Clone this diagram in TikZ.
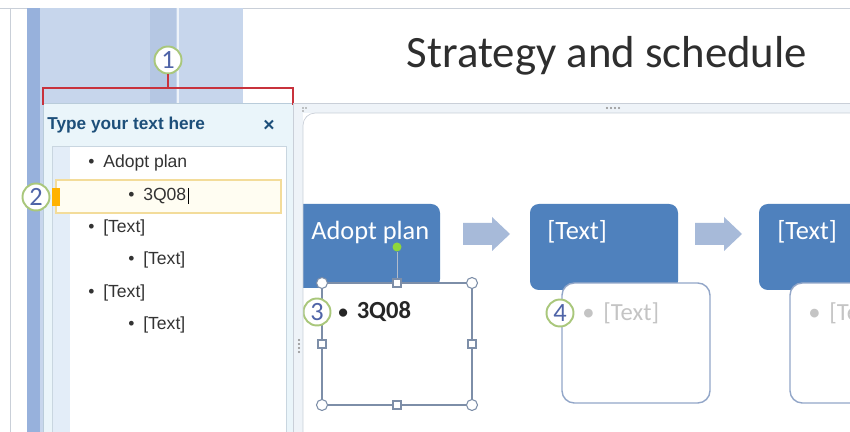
\documentclass[tikz,border=0pt]{standalone}
\usepackage{fontspec}
\setmainfont{Carlito}
\newfontfamily\panefont{Liberation Sans}
\usetikzlibrary{arrows.meta,positioning}
\definecolor{framegray}{HTML}{C9CFD8}
\definecolor{framefill}{HTML}{EEF3F8}
\definecolor{thumbblue}{HTML}{C7D6EC}
\definecolor{thumbdark}{HTML}{97B1DC}
\definecolor{thumbstripe}{HTML}{B5C7E3}
\definecolor{panebg}{HTML}{EAF5FA}
\definecolor{paneborder}{HTML}{B9CCDA}
\definecolor{listborder}{HTML}{C9D6E0}
\definecolor{liststrip}{HTML}{E3EDF8}
\definecolor{titleblue}{HTML}{1D4F7A}
\definecolor{panetext}{HTML}{333333}
\definecolor{rowyellow}{HTML}{F3DC9A}
\definecolor{rowfill}{HTML}{FFFDF2}
\definecolor{bracketred}{HTML}{C8323C}
\definecolor{numgreen}{HTML}{A9C77B}
\definecolor{numblue}{HTML}{4F64A8}
\definecolor{slideblue}{HTML}{4F81BD}
\definecolor{arrowblue}{HTML}{A7BAD9}
\definecolor{boxline}{HTML}{92A6C8}
\definecolor{selline}{HTML}{7D8EA8}
\definecolor{rotgreen}{HTML}{8FD63A}
\definecolor{ghosttext}{HTML}{C4C4C4}

\begin{document}
\begin{tikzpicture}[x=0.02cm,y=-0.02cm,
    numcirc/.style={circle,draw=numgreen,line width=1.1pt,fill=white,minimum size=0.54cm,
      inner sep=0pt,text=numblue,font=\fontsize{15}{15}\selectfont},
    paneitem/.style={anchor=west,inner sep=0pt,text=panetext,font=\panefont\fontsize{10}{10}\selectfont},
    steptext/.style={anchor=west,inner sep=0pt,text=white,font=\fontsize{15}{15}\selectfont},
    handle/.style={circle,draw=selline,fill=white,line width=0.6pt,minimum size=0.22cm,inner sep=0pt},
    sqhandle/.style={rectangle,draw=selline,fill=white,line width=0.6pt,minimum size=0.16cm,inner sep=0pt}]
    \useasboundingbox (0,0) rectangle (850,432);
    \clip (0,0) rectangle (850,432);
    \fill[white] (0,0) rectangle (850,432);
    \draw[framegray] (0,8) -- (850,8);
    \draw[framegray] (10,8) -- (10,432);
    % slide thumbnails behind the pane
    \fill[thumbblue] (27,8) rectangle (243,432);
    \fill[thumbdark] (27,8) rectangle (40,432);
    \fill[thumbstripe] (150,8) rectangle (176,432);
    \draw[white!70!thumbblue,line width=1.2pt] (178,8) -- (178,432);
    % text pane
    \draw[paneborder,fill=panebg] (43,103) rectangle (293,432);
    \node[anchor=west,inner sep=0pt,text=titleblue,font=\panefont\bfseries\fontsize{9.8}{9.8}\selectfont] (panetitle) at (47,125) {Type your text here};
    \node[text=titleblue,font=\panefont\bfseries\fontsize{11}{11}\selectfont] (paneclose) at (269,126) {×};
    \draw[listborder,fill=white] (52,146) rectangle (286,432);
    \fill[liststrip] (53,147) rectangle (70,432);
    \draw[rowyellow,fill=rowfill,line width=0.8pt] (56,180) rectangle (281,213);
    \fill[orange!60!yellow] (52,188) rectangle (60,206);
    \node[paneitem] (p1) at (88,163) {•\hspace{5pt}Adopt plan};
    \node[paneitem] (p2) at (128,196) {•\hspace{5pt}3Q08};
    \draw[black,line width=0.6pt] ([xshift=1pt]p2.east) ++(0,-8) -- ++(0,16);
    \node[paneitem] (p3) at (88,228) {•\hspace{5pt}[Text]};
    \node[paneitem] (p4) at (128,260) {•\hspace{5pt}[Text]};
    \node[paneitem] (p5) at (88,293) {•\hspace{5pt}[Text]};
    \node[paneitem] (p6) at (128,325) {•\hspace{5pt}[Text]};
    % callouts 1 and 2
    \node[numcirc] (n1) at (168,60) {1};
    \coordinate (brmid) at (168,88);
    \coordinate (brL) at (43,105);
    \coordinate (brR) at (293,105);
    \draw[bracketred,line width=1.2pt] (n1.south) -- (brmid);
    \draw[bracketred,line width=1.2pt] (brL) |- (brmid) -| (brR);
    \node[numcirc] (n2) at (36,197) {2};
    % slide
    \node[font=\fontsize{25.5}{25.5}\selectfont,text=black!82] (title) at (607,56) {Strategy and schedule};
    \fill[framefill] (293,103) rectangle (850,113);
    \draw[framegray] (293,103) -- (850,103);
    \fill[slideblue,rounded corners=5pt] (294,204) rectangle (440,288);
    \fill[slideblue,rounded corners=5pt] (530,204) rectangle (678,290);
    \fill[slideblue,rounded corners=5pt] (759,204) rectangle (910,290);
    \node[steptext] (s1) at (311,232) {Adopt plan};
    \node[steptext] (s2) at (547,232) {[Text]};
    \node[steptext] (s3) at (777,232) {[Text]};
    \foreach \ax in {463,695}
      \fill[arrowblue] (\ax,223) -- (\ax+29,223) -- (\ax+29,217) -- (\ax+47,234)
        -- (\ax+29,251) -- (\ax+29,245) -- (\ax,245) -- cycle;
    \draw[boxline,fill=white,line width=0.8pt,rounded corners=7pt] (562,283) rectangle (710,403);
    \draw[boxline,fill=white,line width=0.8pt,rounded corners=7pt] (790,283) rectangle (940,403);
    \draw[selline,fill=white,line width=1.1pt] (322,283) rectangle (472,405);
    \node[circle,fill=rotgreen,minimum size=0.18cm,inner sep=0pt] (rot) at (397,247) {};
    \node[sqhandle] (hT) at (397,283) {};
    \draw[selline!60] (rot) -- (hT);
    \node[handle] (hTL) at (322,283) {};
    \node[handle] (hTR) at (472,283) {};
    \node[handle] (hBL) at (322,405) {};
    \node[handle] (hBR) at (472,405) {};
    \node[sqhandle] (hL) at (322,344) {};
    \node[sqhandle] (hR) at (472,344) {};
    \node[sqhandle] (hB) at (397,405) {};
    \node[anchor=west,inner sep=0pt,font=\fontsize{14}{14}\selectfont\bfseries,text=black!85] (b1) at (338,312) {{\fontsize{11}{11}\selectfont•}\hspace{5pt}3Q08};
    \node[anchor=west,inner sep=0pt,font=\fontsize{14}{14}\selectfont,text=ghosttext] (b2) at (582,313) {•\hspace{5pt}[Text]};
    \node[anchor=west,inner sep=0pt,font=\fontsize{14}{14}\selectfont,text=ghosttext] (b3) at (808,313) {•\hspace{5pt}[Text]};
    \node[numcirc] (n3) at (317,312) {3};
    \node[numcirc] (n4) at (560,313) {4};
    % frame band of the slide area
    \fill[framefill] (293,113) rectangle (303,432);
    \draw[framegray,rounded corners=7pt] (303,432) -- (303,113) -- (850,113);
    \draw[framegray] (293,103) -- (293,432);
    \foreach \i in {0,...,3}
      \fill[black!45] (607+4*\i,108) circle (0.6pt);
    \foreach \i in {0,...,3}
      \fill[black!45] (299,340+4*\i) circle (0.6pt);
    \fill[black!45] (303,108) circle (0.5pt) (303,111) circle (0.5pt) (306,108) circle (0.5pt);
\end{tikzpicture}
\end{document}
